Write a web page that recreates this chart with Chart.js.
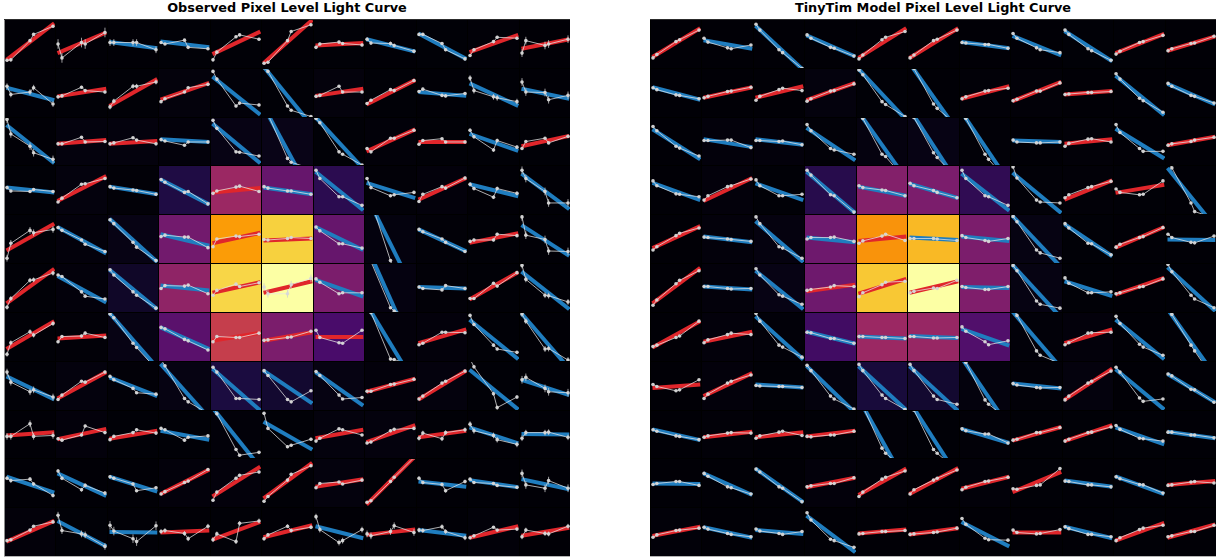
<!DOCTYPE html>
<html>
<head>
<meta charset="utf-8">
<title>Pixel Level Light Curve</title>
<script src="https://cdn.jsdelivr.net/npm/chart.js@4"></script>
<style>
  body { margin: 0; background: #fff; width: 1219px; height: 559px; overflow: hidden; position: relative; }
  .title { position: absolute; top: 0; width: 566px; text-align: center; font: bold 12.85px "DejaVu Sans"; line-height: 15px; color: #000; white-space: nowrap; }
  .panel { position: absolute; top: 19px; width: 566px; height: 537px; background: #000; border-top: 0; box-shadow: inset 0 1px #2c2c2c, 0 1px #b4b4b4; }
  #obs { box-shadow: inset 0 1px #2c2c2c, inset 1px 0 #8a8a8a, 0 1px #b4b4b4; }
  .panel canvas { position: absolute; }
</style>
</head>
<body>
<div class="title" style="left:4px">Observed Pixel Level Light Curve</div>
<div class="title" style="left:650px">TinyTim Model Pixel Level Light Curve</div>
<div class="panel" id="obs" style="left:4px"></div>
<div class="panel" id="model" style="left:650px"></div>
<script>
// phase of the five orbit samples and the two ends of the fitted trend, per cell
const phase = [0.04, 0.117, 0.5, 0.572, 0.96];
const fitPhase = [0.03, 0.985];

// ---------- observed ----------
const obsHeat = [
  [.004,.004,.004,.006,.006,.004,.006,.004,.006,.008,.004],
  [.004,.006,.006,.015,.01,.006,.015,.006,.004,.006,.004],
  [.004,.016,.016,.012,.03,.035,.006,.01,.006,.006,.006],
  [.005,.016,.008,.12,.42,.29,.15,.008,.012,.004,.004],
  [.005,.012,.03,.32,.78,.89,.29,.018,.007,.005,.004],
  [.005,.012,.065,.39,.9,1,.34,.022,.008,.005,.004],
  [.005,.008,.03,.26,.53,.34,.22,.012,.012,.005,.004],
  [.005,.016,.008,.025,.11,.08,.025,.012,.016,.005,.004],
  [.004,.012,.006,.005,.01,.005,.016,.016,.005,.004,.004],
  [.004,.004,.004,.012,.012,.005,.016,.005,.004,.004,.004],
  [.011,.005,.004,.004,.005,.004,.004,.004,.004,.01,.004]
];
const obsFit = [
  [[17,93],[31,74],[54,41],[55,43],[29,76],[10,100],[47,52],[60,34],[72,19],[33,69],[40,60]],
  [[61,35],[43,59],[23,79],[36,71],[84,5],[105,-19],[44,59],[26,77],[52,44],[70,23],[59,38]],
  [[85,4],[45,53],[45,51],[55,49],[88,4],[125,-66],[102,-8],[29,76],[49,49],[66,30],[40,62]],
  [[55,45],[27,79],[57,41],[72,20],[45,54],[55,41],[88,8],[65,33],[30,75],[62,37],[84,10]],
  [[26,82],[75,20],[92,2],[60,36],[41,63],[47,51],[75,27],[140,-64],[70,24],[42,62],[79,15]],
  [[18,90],[75,20],[88,6],[55,45],[40,62],[40,64],[67,32],[138,-89],[52,49],[26,83],[84,6]],
  [[25,83],[47,53],[100,-14],[70,25],[42,59],[42,60],[50,50],[118,-49],[37,66],[86,4],[99,-16]],
  [[70,22],[24,79],[68,29],[96,-17],[86,-1],[82,14],[79,9],[38,65],[22,82],[84,1],[63,31]],
  [[48,55],[40,62],[41,58],[58,39],[107,-20],[77,18],[42,60],[34,70],[44,58],[65,31],[51,50]],
  [[63,30],[70,23],[63,32],[27,78],[22,84],[18,92],[42,58],[5,106],[53,42],[56,41],[58,37]],
  [[30,73],[73,20],[50,49],[49,53],[34,71],[39,64],[62,37],[44,55],[54,42],[38,62],[42,59]]
];
const obsFlux = [
  [[16,17,57,70,87],[50,21,53,50,74],[53,53,53,53,38],[53,50,58,43,40],[17,33,65,69,60],[10,12,57,76,90],[43,50,54,51,48],[60,52,51,47,35],[70,70,51,38,19],[26,38,55,64,62],[31,57,47,50,60]],
  [[64,47,52,61,27],[42,44,62,55,52],[21,33,64,64,73],[32,38,52,61,68],[95,79,23,29,25],[103,95,23,14,1],[43,45,64,52,52],[28,35,57,55,76],[53,58,45,44,49],[81,55,42,40,32],[73,52,51,36,45]],
  [[97,66,40,26,12],[45,45,59,49,50],[45,47,58,53,45],[54,51,42,49,49],[95,78,28,27,19],[125,108,14,6,-8],[99,90,28,23,0],[35,28,57,57,74],[44,52,56,49,49],[74,60,32,52,38],[35,50,57,47,61]],
  [[55,48,47,51,47],[25,33,62,63,74],[57,54,50,49,41],[72,66,45,47,21],[43,48,56,58,47],[57,54,48,48,41],[91,74,36,36,18],[74,55,38,40,45],[26,41,57,54,75],[62,53,35,53,43],[91,74,47,23,23]],
  [[10,41,68,63,70],[74,68,48,39,24],[90,82,43,33,5],[55,58,54,54,32],[34,50,56,55,60],[49,48,51,53,51],[75,67,40,40,31],[153,129,5,-15,-50],[70,65,50,43,24],[45,48,48,60,57],[96,58,49,25,24]],
  [[10,28,66,67,81],[77,74,42,33,27],[88,77,42,35,8],[49,55,54,56,38],[35,45,58,53,61],[52,38,38,57,70],[69,62,38,40,40],[124,105,9,2,-10],[52,49,46,55,49],[28,28,60,54,82],[97,68,35,34,21]],
  [[14,38,61,54,78],[40,51,52,58,49],[98,90,37,28,-16],[70,67,45,42,23],[40,51,49,49,58],[43,44,49,50,62],[64,49,38,37,64],[120,101,4,3,-10],[34,37,60,60,59],[95,76,33,25,18],[98,83,25,26,2]],
  [[79,58,38,42,27],[22,31,60,58,79],[70,63,45,36,33],[105,92,24,17,-7],[89,79,24,24,22],[82,72,22,17,40],[80,72,31,23,26],[39,39,53,54,64],[23,29,56,60,81],[106,90,34,5,27],[63,68,45,38,36]],
  [[46,46,73,46,48],[41,38,49,68,54],[39,46,54,60,53],[63,60,38,44,47],[111,94,18,6,12],[95,63,24,27,40],[36,42,62,60,49],[32,34,58,61,63],[42,53,41,54,60],[72,58,48,39,29],[42,54,54,55,44]],
  [[60,55,58,48,24],[75,60,36,45,29],[63,60,48,34,40],[27,32,51,54,78],[14,31,60,66,73],[12,22,56,68,86],[40,49,52,48,56],[10,13,53,62,103],[60,51,47,34,53],[58,51,49,45,41],[70,46,39,55,39]],
  [[32,34,54,62,71],[85,53,46,44,20],[64,52,36,30,63],[51,53,47,36,62],[34,46,30,68,73],[36,44,62,53,60],[82,55,28,32,55],[46,42,51,63,49],[54,53,61,51,38],[38,42,60,54,56],[40,54,47,46,62]]
];
const obsErr = [
  [3,10,7,2,3,3,3,4,3,3,8],
  [6,3,5,2,3,1,2,2,3,6,8],
  [8,2,2,2,2,1,2,2,2,4,2],
  [3,2,1,1,1,1,2,3,3,4,8],
  [7,1,1,1,1,1,1,1,1,3,8],
  [5,2,1,2,2,8,2,1,2,2,6],
  [5,3,1,1,1,1,2,1,2,3,6],
  [7,2,2,1,1,2,2,1,1,4,8],
  [7,3,3,3,1,3,2,3,5,6,6],
  [4,4,3,1,3,3,1,1,4,2,8],
  [1,7,9,5,5,4,6,7,5,2,5]
];

// ---------- tinytim model ----------
const modelHeat = [
  [.004,.004,.004,.004,.004,.004,.004,.004,.006,.006,.004],
  [.004,.004,.004,.016,.005,.004,.008,.008,.004,.004,.004],
  [.004,.012,.012,.008,.02,.03,.008,.004,.008,.004,.004],
  [.004,.012,.005,.14,.36,.34,.16,.008,.008,.005,.004],
  [.004,.012,.02,.31,.76,.84,.34,.025,.005,.004,.004],
  [.004,.012,.03,.31,.87,1,.35,.025,.005,.004,.004],
  [.004,.012,.01,.2,.42,.41,.24,.01,.012,.004,.004],
  [.004,.012,.006,.016,.1,.08,.016,.008,.016,.004,.004],
  [.004,.007,.004,.005,.008,.005,.008,.005,.005,.005,.004],
  [.004,.004,.004,.012,.008,.003,.01,.005,.004,.004,.004],
  [.01,.004,.004,.003,.004,.004,.004,.004,.004,.005,.004]
];
const modelFit = [
  [[23,83],[58,40],[88,-4],[68,24],[21,83],[21,83],[54,41],[67,26],[77,14],[31,71],[36,66]],
  [[62,36],[40,62],[40,64],[35,71],[100,-6],[112,-31],[38,64],[33,73],[47,54],[86,4],[69,26]],
  [[76,12],[55,38],[55,43],[79,10],[113,-30],[119,-40],[113,-37],[52,49],[45,55],[77,14],[42,60]],
  [[65,29],[27,75],[64,29],[88,2],[57,38],[63,33],[84,7],[86,2],[30,70],[44,61],[96,-27]],
  [[31,77],[55,43],[87,2],[53,43],[46,55],[53,48],[55,46],[98,-9],[81,14],[32,75],[49,48]],
  [[18,92],[53,47],[86,6],[43,57],[38,69],[40,64],[52,50],[98,-12],[64,33],[36,71],[93,2]],
  [[28,83],[40,61],[93,3],[61,36],[51,47],[52,48],[67,32],[103,-15],[37,66],[86,4],[108,-31]],
  [[46,53],[29,77],[53,47],[92,-6],[91,0],[91,-2],[109,-36],[55,45],[21,86],[85,1],[75,16]],
  [[61,38],[44,56],[44,55],[46,58],[127,-55],[120,-41],[62,32],[37,66],[36,70],[65,29],[56,42]],
  [[49,48],[70,25],[80,10],[41,61],[25,80],[27,81],[38,63],[31,73],[55,42],[64,27],[46,54]],
  [[42,61],[60,38],[54,46],[84,8],[47,55],[45,58],[71,20],[49,49],[61,37],[32,69],[38,66]]
];
const modelFlux = [
  [[21,28,55,59,79],[62,54,42,40,48],[91,79,38,32,-1],[69,62,43,41,25],[19,27,59,64,76],[21,27,57,60,79],[53,52,49,49,41],[72,62,42,38,32],[79,70,40,36,16],[29,35,53,55,68],[36,40,51,52,66]],
  [[61,57,46,45,38],[40,43,53,54,62],[35,43,57,60,55],[33,38,54,55,69],[98,88,32,26,1],[116,101,27,18,-17],[38,42,54,55,60],[34,37,54,54,71],[47,48,51,51,53],[90,79,39,34,10],[70,64,45,43,29]],
  [[82,73,40,36,19],[52,52,53,53,37],[52,52,50,51,43],[86,73,35,32,23],[114,99,23,18,-30],[116,101,26,16,-28],[114,99,23,12,-35],[53,49,47,47,49],[40,46,55,56,49],[86,69,35,29,29],[42,45,50,53,59]],
  [[69,59,42,41,36],[29,38,57,59,73],[71,59,38,38,41],[91,81,40,38,4],[59,55,50,49,38],[64,59,49,45,34],[91,74,38,36,18],[98,75,29,25,23],[34,40,55,57,68],[52,45,40,41,69],[110,96,23,5,-8]],
  [[27,34,57,62,73],[54,53,50,49,45],[96,82,34,31,10],[50,53,53,54,45],[41,46,56,60,47],[51,51,51,50,47],[57,53,47,45,51],[97,86,27,21,10],[82,73,41,40,17],[33,39,53,55,74],[60,53,43,42,56]],
  [[14,25,59,66,86],[53,53,49,48,49],[90,77,36,33,16],[45,47,52,55,53],[32,40,57,62,64],[40,43,50,49,66],[53,51,47,47,53],[97,86,23,16,8],[71,60,40,40,42],[38,40,52,53,69],[99,84,35,27,9]],
  [[30,33,49,52,83],[38,44,55,58,55],[99,83,33,29,8],[60,59,47,47,37],[51,51,49,49,47],[51,51,48,48,49],[71,62,40,34,42],[110,95,21,12,-5],[34,38,58,59,60],[93,78,35,29,12],[108,97,33,21,-38]],
  [[53,49,40,42,63],[24,33,56,60,73],[51,50,49,49,47],[93,82,29,23,2],[95,82,31,24,1],[95,82,29,22,12],[118,99,21,12,-20],[55,52,47,46,47],[21,29,56,60,81],[89,79,25,18,23],[75,71,43,42,16]],
  [[60,57,47,46,39],[44,47,53,54,53],[42,47,55,57,48],[46,45,49,49,57],[128,110,21,10,-23],[119,102,18,10,-25],[62,58,51,51,32],[38,40,54,54,65],[36,40,54,55,66],[69,61,42,41,36],[55,55,49,49,43]],
  [[47,49,53,53,45],[70,64,42,40,27],[79,73,42,39,11],[42,44,49,49,61],[22,31,58,62,75],[27,36,56,60,77],[36,41,53,54,62],[38,37,45,46,80],[54,53,46,46,42],[63,59,47,46,29],[45,46,52,53,50]],
  [[39,44,53,54,58],[60,56,47,45,40],[56,52,47,45,51],[90,75,35,32,18],[46,47,51,51,53],[45,46,49,50,58],[78,66,37,34,33],[54,49,46,47,55],[61,57,45,45,40],[32,38,55,58,64],[40,42,51,51,64]]
];

// inferno colormap stops
const inferno = ["#000004","#1b0c41","#4a0c6b","#781c6d","#a52c60","#cf4446","#ed6925","#fb9b06","#f7d13d","#fcffa4"];

function heatColor(v) {
  const p = Math.min(v, 0.9999) * (inferno.length - 1);
  const i = Math.floor(p), t = p - i;
  const rgb = k => {
    const a = parseInt(inferno[i].substr(k, 2), 16);
    const b = parseInt(inferno[i + 1].substr(k, 2), 16);
    return Math.round(a + (b - a) * t);
  };
  return "rgb(" + rgb(1) + "," + rgb(3) + "," + rgb(5) + ")";
}

function drawCell(holder, box, heat, fit, flux, err) {
  const canvas = document.createElement("canvas");
  canvas.style.left = box.left + "px";
  canvas.style.top = box.top + "px";
  canvas.style.background = heatColor(heat);
  canvas.width = box.width;
  canvas.height = box.height;
  holder.appendChild(canvas);

  const fitColor = fit[1] >= fit[0] ? "#e0262b" : "#1f7dbf";
  const fluxPoints = flux.map((y, i) => ({ x: phase[i], y: y }));
  const errPoints = [];
  flux.forEach((y, i) => {
    errPoints.push({ x: phase[i], y: y - err }, { x: phase[i], y: y + err }, { x: phase[i], y: null });
  });

  new Chart(canvas, {
    type: "scatter",
    data: {
      datasets: [
        {
          data: fitPhase.map((x, i) => ({ x: x, y: fit[i] })),
          showLine: true,
          borderColor: fitColor,
          borderWidth: 4,
          pointRadius: 0,
          order: 3,
        },
        {
          data: errPoints,
          showLine: true,
          spanGaps: false,
          borderColor: "rgba(205,205,205,0.75)",
          borderWidth: 1,
          pointRadius: 0,
          order: 2,
        },
        {
          data: fluxPoints,
          showLine: true,
          borderColor: "rgba(230,230,230,0.75)",
          borderWidth: 1,
          pointRadius: 1.8,
          pointBackgroundColor: "rgba(215,215,215,0.95)",
          pointBorderWidth: 0,
          order: 1,
        },
      ],
    },
    options: {
      responsive: false,
      animation: false,
      events: [],
      layout: { padding: 0, autoPadding: false },
      scales: {
        x: { type: "linear", min: 0, max: 1, display: false },
        y: { type: "linear", min: 0, max: 100, display: false },
      },
      plugins: { legend: { display: false }, tooltip: { enabled: false } },
    },
  });
}

function drawPanel(id, heat, fit, flux, err) {
  const holder = document.getElementById(id);
  const pitchX = 566 / 11, pitchY = 537 / 11;
  heat.forEach((row, r) => {
    row.forEach((v, c) => {
      const left = Math.round(c * pitchX), top = Math.round(r * pitchY);
      const box = {
        left: left + 1,
        top: top + 1,
        width: Math.round((c + 1) * pitchX) - left - 1,
        height: Math.round((r + 1) * pitchY) - top - 1,
      };
      drawCell(holder, box, v, fit[r][c], flux[r][c], err ? err[r][c] : 0);
    });
  });
}

drawPanel("obs", obsHeat, obsFit, obsFlux, obsErr);
drawPanel("model", modelHeat, modelFit, modelFlux, null);
</script>
</body>
</html>
